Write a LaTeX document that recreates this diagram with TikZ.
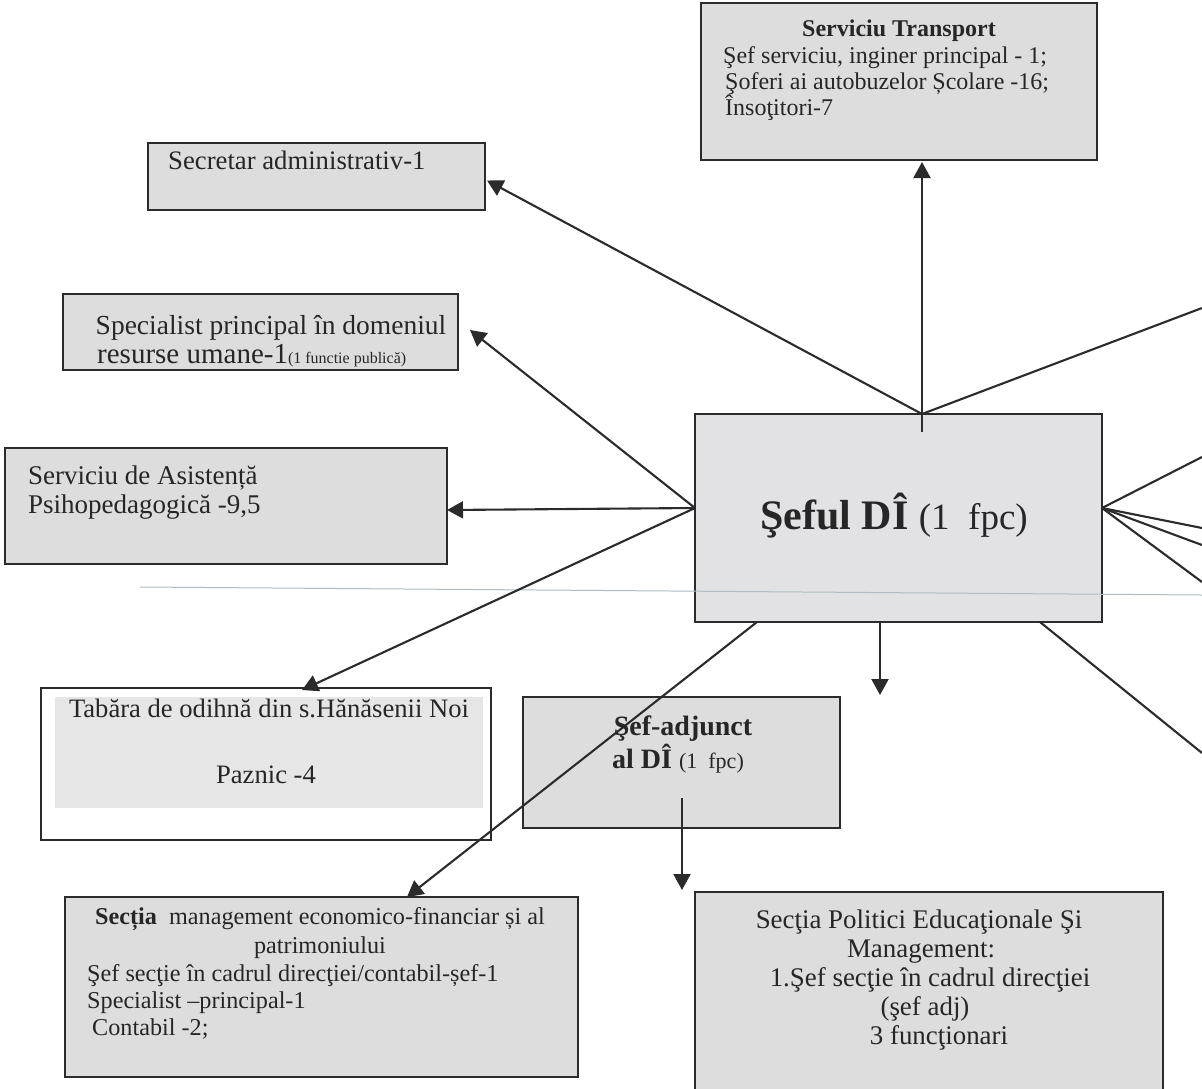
\documentclass[tikz,border=0pt]{standalone}
\usepackage{fontspec}
\setmainfont{Liberation Serif}
\usetikzlibrary{arrows.meta,calc}
\definecolor{linec}{HTML}{2B2B2B}
\definecolor{boxfill}{HTML}{DDDDDD}
\definecolor{seffill}{HTML}{E2E2E4}
\definecolor{tabfill}{HTML}{E6E6E6}
\definecolor{faint}{HTML}{AFBCC3}
\definecolor{txtc}{HTML}{262626}
\newcommand{\myfs}[1]{\fontsize{#1}{#1}\selectfont}
\tikzset{
  boxst/.style={draw=linec, line width=1.9pt, fill=boxfill, inner sep=0pt, outer sep=0pt, anchor=north west},
  conn/.style={draw=linec, line width=2.1pt},
  arr/.style={conn, -{Triangle[length=16pt,width=17pt]}},
  lc/.style={inner sep=0pt, anchor=base, text=txtc},
  ll/.style={inner sep=0pt, anchor=base west, text=txtc}
}
\begin{document}
\begin{tikzpicture}[x=1pt,y=-1pt]
\useasboundingbox (0,0) rectangle (1202,1088);
\fill[white] (0,0) rectangle (1202,1088);

% boxes
\node[boxst, minimum width=396, minimum height=157] (trans) at (701,3) {};
\node[boxst, minimum width=337, minimum height=67] (secr) at (148,143) {};
\node[boxst, minimum width=395, minimum height=76] (spec) at (63,294) {};
\node[boxst, minimum width=442, minimum height=116] (asis) at (5,448) {};
\node[boxst, fill=seffill, minimum width=407, minimum height=208] (sef) at (695,414) {};
\node[boxst, fill=white, line width=1.3pt, minimum width=450, minimum height=152] (tab) at (41,688) {};
\fill[tabfill] ($(tab.north west)+(14,9)$) rectangle ($(tab.north west)+(442,120)$);
\node[boxst, minimum width=317, minimum height=131] (adj) at (523,697) {};
\node[boxst, minimum width=513, minimum height=180] (econ) at (65,897) {};
\node[boxst, minimum width=468, minimum height=204] (pol) at (695,892) {};

% scan line
\draw[faint, line width=1pt] (140,587) -- (1202,595);

% connector end points
\coordinate (sT) at ($(sef.north west)+(227,0)$);
\coordinate (sTin) at ($(sef.north west)+(227,18)$);
\coordinate (sL) at ($(sef.west)+(0,-10)$);
\coordinate (sR) at ($(sef.east)+(0,-10)$);
\coordinate (sB1) at ($(sef.south west)+(62,0)$);
\coordinate (sB2) at ($(sef.south west)+(185,0)$);
\coordinate (sB3) at ($(sef.south west)+(345,0)$);
\coordinate (oTR) at (1202,308);
\coordinate (oR1) at (1202,457);
\coordinate (oR2) at (1202,528);
\coordinate (oR3) at (1202,545);
\coordinate (oR4) at (1202,582);
\coordinate (oBR) at (1202,753);
\coordinate (oD) at (880,695);

% connectors
\draw[arr] (sTin) -- ($(trans.south west)+(221,2)$);
\draw[arr] (sT) -- ($(secr.east)+(2,4)$);
\draw[conn] (sT) -- (oTR);
\draw[arr] (sL) -- ($(spec.east)+(12,-2)$);
\draw[arr] (sL) -- ($(asis.east)+(0,4)$);
\draw[arr] (sL) -- ($(tab.north west)+(261,2)$);
\draw[arr] (sB1) -- ($(econ.north west)+(342,0)$);
\draw[arr] (sB2) -- (oD);
\draw[conn] (sB3) -- (oBR);
\draw[conn] (sR) -- (oR1);
\draw[conn] (sR) -- (oR2);
\draw[conn] (sR) -- (oR3);
\draw[conn] (sR) -- (oR4);
\draw[arr] ($(adj.north west)+(159,101)$) -- ($(pol.north west)+(-13,-2)$);

% texts: Serviciu Transport
\node[lc, font=\bfseries\myfs{24}] (tT1) at (899,36) {Serviciu Transport};
\node[ll, font=\myfs{24}] (tT2) at (723,63) {Şef serviciu, inginer principal - 1;};
\node[ll, font=\myfs{24}] (tT3) at (725,89) {Şoferi ai autobuzelor Școlare -16;};
\node[ll, font=\myfs{24}] (tT4) at (725,115) {Însoţitori-7};

% Secretar
\node[ll, font=\myfs{26.7}] (tS) at (168,169) {Secretar administrativ-1};

% Specialist
\node[lc, font=\myfs{27.5}] (tP1) at (271,334) {Specialist principal în domeniul};
\node[ll] (tP2) at (97,363) {\myfs{29}resurse umane-1\myfs{16}(1 functie publică)};

% Asistenta
\node[ll, font=\myfs{27}] (tA1) at (28,484) {Serviciu de Asistență};
\node[ll, font=\myfs{27}] (tA2) at (28,513) {Psihopedagogică -9,5};

% Seful
\node[ll] (tF) at (760,529) {\bfseries\myfs{42}Şeful DÎ \mdseries\myfs{37}(1\ \ fpc)};

% Tabara
\node[lc, font=\myfs{26.6}] (tB1) at (269,717) {Tabăra de odihnă din s.Hănăsenii Noi};
\node[lc, font=\myfs{26.6}] (tB2) at (266,783) {Paznic -4};

% Sef-adjunct
\node[lc, font=\bfseries\myfs{28}] (tJ1) at (683,735) {Şef-adjunct};
\node[ll] (tJ2) at (612,768) {\bfseries\myfs{28}al DÎ \mdseries\myfs{22}(1\ \ fpc)};

% Sectia management
\node[lc, font=\myfs{24.2}] (tE1) at (320,924) {\textbf{Secția}\ \ management economico-financiar și al};
\node[lc, font=\myfs{24.2}] (tE2) at (320,953) {patrimoniului};
\node[ll, font=\myfs{24.2}] (tE3) at (87,981) {Şef secţie în cadrul direcţiei/contabil-șef-1};
\node[ll, font=\myfs{24.2}] (tE4) at (87,1008) {Specialist –principal-1};
\node[ll, font=\myfs{24.2}] (tE5) at (92,1035) {Contabil -2;};

% Politici
\node[lc, font=\myfs{26.9}] (tO1) at (919,928) {Secţia Politici Educaţionale Şi};
\node[lc, font=\myfs{26.9}] (tO2) at (921,957) {Management:};
\node[lc, font=\myfs{26.9}] (tO3) at (930,986) {1.Şef secţie în cadrul direcţiei};
\node[lc, font=\myfs{26.9}] (tO4) at (925,1015) {(şef adj)};
\node[lc, font=\myfs{26.9}] (tO5) at (939,1044) {3 funcţionari};
\end{tikzpicture}
\end{document}
